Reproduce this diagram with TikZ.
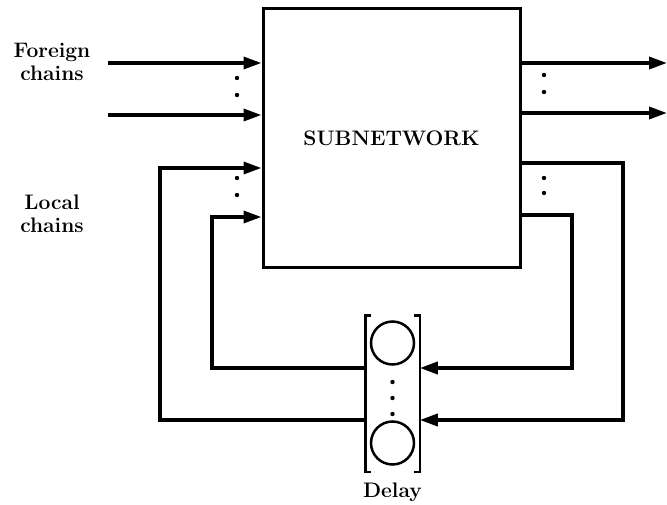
\documentclass[tikz,border=0pt]{standalone}
\usetikzlibrary{arrows.meta}

\begin{document}
\begin{tikzpicture}[x=1pt, y=-1pt, line width=3.5pt,
    lbl/.style={font=\fontsize{21}{23}\selectfont\bfseries, align=center},
    chain/.style={-{Triangle[length=18pt,width=12pt]}},
    dot/.style={radius=2.2pt}]
  \useasboundingbox (0,0) rectangle (667,505);

  \node[draw, line width=3pt, minimum width=257pt, minimum height=259pt,
        inner sep=0pt, lbl] (sub) at (391.5,138) {SUBNETWORK};
  \node[minimum width=51pt, minimum height=153pt, inner sep=0pt] (delay) at (392.5,393.5) {};

  \coordinate (fa) at (108, 63);
  \coordinate (fb) at (108,115);
  \coordinate (oa) at (667, 63);
  \coordinate (ob) at (667,113);
  \coordinate (la) at (160,168);
  \coordinate (lb) at (212,217);
  \coordinate (ra) at (623,163);
  \coordinate (rb) at (572,215);
  \coordinate (da) at (0,420);
  \coordinate (db) at (0,368);

  % foreign chains in and out
  \draw[chain] (fa) -- (sub.west |- fa);
  \draw[chain] (fb) -- (sub.west |- fb);
  \draw[chain] (sub.east |- oa) -- (oa);
  \draw[chain] (sub.east |- ob) -- (ob);

  % local chains through the delay
  \draw[chain] (sub.east |- ra) -- (ra) -- (ra |- da) -- (delay.east |- da);
  \draw[chain] (sub.east |- rb) -- (rb) -- (rb |- db) -- (delay.east |- db);
  \draw[chain] (delay.west |- da) -- (la |- da) -- (la) -- (sub.west |- la);
  \draw[chain] (delay.west |- db) -- (lb |- db) -- (lb) -- (sub.west |- lb);

  % delay station
  \draw[line width=2.5pt] ([xshift=6pt]delay.north west) -- (delay.north west)
    -- (delay.south west) -- ([xshift=6pt]delay.south west);
  \draw[line width=2.5pt] ([xshift=-6pt]delay.north east) -- (delay.north east)
    -- (delay.south east) -- ([xshift=-6pt]delay.south east);
  \draw[line width=2.5pt] (392.5,343) circle[radius=21.5pt];
  \draw[line width=2.5pt] (392.5,443) circle[radius=21.5pt];

  \foreach \y in {382,398,414} \fill (392.5,\y) circle[dot];
  \foreach \y in {78,95,178,195} \fill (237,\y) circle[dot];
  \foreach \y in {75,92,178,193} \fill (544,\y) circle[dot];

  \node[lbl] (flab) at (52, 62) {Foreign\\chains};
  \node[lbl] (llab) at (52,214) {Local\\chains};
  \node[lbl] (dlab) at (392.5,492) {Delay};
\end{tikzpicture}
\end{document}
